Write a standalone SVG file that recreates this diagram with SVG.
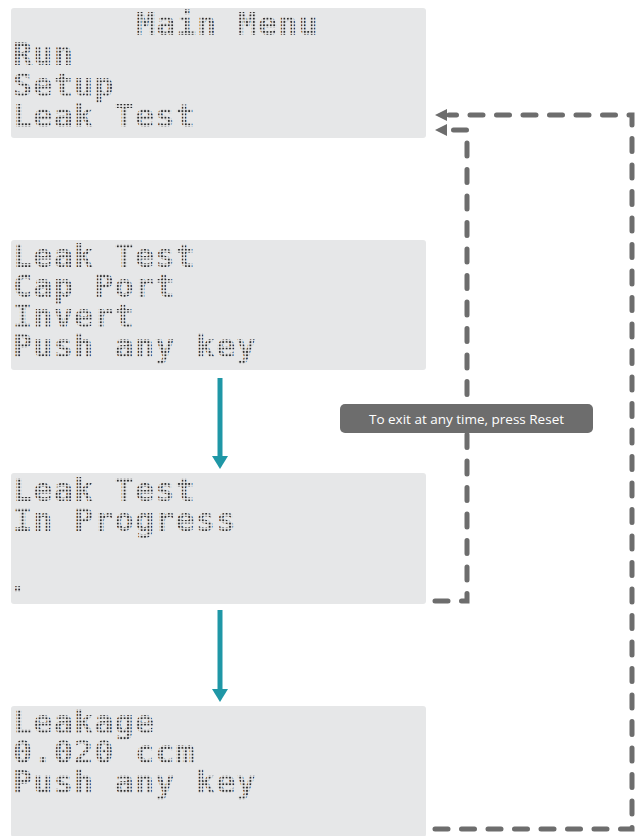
<svg xmlns="http://www.w3.org/2000/svg" width="637" height="836" viewBox="0 0 637 836">
<defs>
<pattern id="dots" patternUnits="userSpaceOnUse" width="3.4" height="3.3" x="0.5" y="0.5">
<rect width="3.4" height="3.3" fill="#d0d0d0" fill-opacity="0"/>
<circle cx="1.7" cy="1.65" r="1.05" fill="#2a2a2a"/>
</pattern>
<marker id="ah" markerWidth="12" markerHeight="12" refX="0" refY="6" orient="auto" markerUnits="userSpaceOnUse"><path d="M0,0 L12,6 L0,12 Z" fill="#6d6d6d"/></marker>
</defs>
<style>
.lcd{fill:#e6e7e8}
.t{font-family:"DejaVu Sans Mono","Liberation Mono",monospace;font-size:32px;letter-spacing:1.05px;font-weight:bold;fill:url(#dots)}
.flow{stroke:#1f97a6;stroke-width:5;fill:none}
.head{fill:#1f97a6}
.dash{stroke:#6d6d6d;stroke-width:5;fill:none;stroke-dasharray:13 13.5;stroke-linecap:round}
.ghead{fill:#6d6d6d}
.lbl{font-family:"Open Sans","Liberation Sans",sans-serif;font-size:13.5px;fill:#ffffff;text-anchor:middle}
</style>
<g id="connectors">
<line class="flow" x1="220" y1="378" x2="220" y2="458"/>
<polygon class="head" points="212,456 228,456 220,469"/>
<line class="flow" x1="220" y1="610" x2="220" y2="691"/>
<polygon class="head" points="212,689 228,689 220,702"/>
<path class="dash" d="M435,829 H632 V115 H449"/>
<polygon class="ghead" points="435,115 447,109 447,121"/>
<path class="dash" d="M435,601 H467 V130 H449"/>
<polygon class="ghead" points="435,130 447,124 447,136"/>
</g>
<g id="main-menu">
<rect class="lcd" x="11" y="8" width="415" height="130" rx="3"/>
<text class="t" x="136" y="35">Main Menu</text>
<text class="t" x="13" y="65">Run</text>
<text class="t" x="13" y="96">Setup</text>
<text class="t" x="13" y="127">Leak Test</text>
</g>
<g id="leak-test-setup">
<rect class="lcd" x="11" y="240" width="415" height="130" rx="3"/>
<text class="t" x="13" y="267">Leak Test</text>
<text class="t" x="13" y="297">Cap Port</text>
<text class="t" x="13" y="327">Invert</text>
<text class="t" x="13" y="357">Push any key</text>
</g>
<g id="leak-test-progress">
<rect class="lcd" x="11" y="473" width="415" height="131" rx="3"/>
<text class="t" x="13" y="501">Leak Test</text>
<text class="t" x="13" y="531">In Progress</text>
<text class="t" x="8" y="592">.</text>
</g>
<g id="leakage-result">
<rect class="lcd" x="11" y="706" width="415" height="131" rx="3"/>
<text class="t" x="13" y="733">Leakage</text>
<text class="t" x="13" y="763">0.020 ccm</text>
<text class="t" x="13" y="793">Push any key</text>
</g>
<g id="exit-note">
<rect x="340" y="404" width="253" height="29" rx="5" fill="#6d6d6d"/>
<text class="lbl" x="466.5" y="423.5">To exit at any time, press Reset</text>
</g>
</svg>
